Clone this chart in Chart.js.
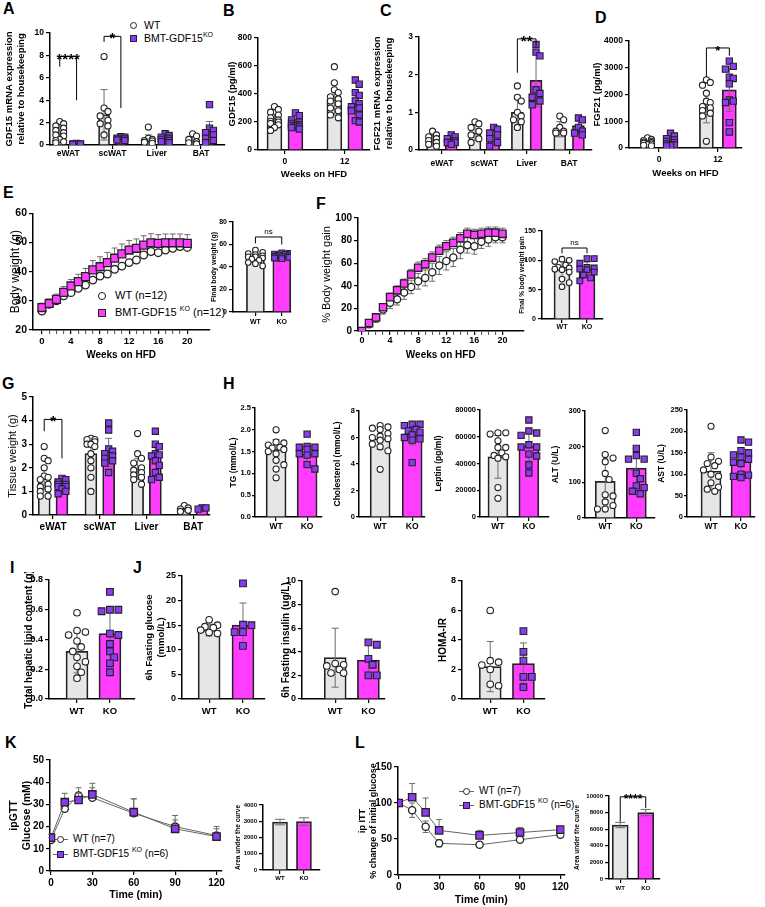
<!DOCTYPE html>
<html>
<head>
<meta charset="utf-8">
<script src="https://cdn.jsdelivr.net/npm/chart.js@4.4.1/dist/chart.umd.min.js"></script>
<style>
body{margin:0;background:#fff;width:765px;height:907px;position:relative;overflow:hidden;font-family:"Liberation Sans",Arial,sans-serif;color:#000}
canvas{position:absolute}
.lt{position:absolute;font-weight:bold;font-size:16px;line-height:16px}
.lg{position:absolute;white-space:nowrap}
.lg sup{font-size:7px;vertical-align:5px;line-height:0}
.mk{position:absolute;box-sizing:border-box;border:1.3px solid #222}
.ln{position:absolute;height:1px;background:#666}
</style>
</head>
<body>
<div class="lt" style="left:3px;top:1px">A</div>
<div class="lt" style="left:223px;top:3px">B</div>
<div class="lt" style="left:380px;top:3px">C</div>
<div class="lt" style="left:595px;top:10px">D</div>
<div class="lt" style="left:3px;top:185px">E</div>
<div class="lt" style="left:316px;top:196px">F</div>
<div class="lt" style="left:2px;top:376px">G</div>
<div class="lt" style="left:223px;top:376px">H</div>
<div class="lt" style="left:10px;top:560px">I</div>
<div class="lt" style="left:133px;top:560px">J</div>
<div class="lt" style="left:5px;top:735px">K</div>
<div class="lt" style="left:355px;top:735px">L</div>

<div class="mk" style="left:130px;top:22px;width:7px;height:7px;border-radius:50%;background:#fff"></div>
<div class="lg" style="left:144px;top:20px;font-size:10.5px;line-height:10.5px">WT</div>
<div class="mk" style="left:130px;top:35px;width:7px;height:7px;background:#8b3cf2"></div>
<div class="lg" style="left:144px;top:33px;font-size:10.5px;line-height:10.5px">BMT-GDF15<sup>KO</sup></div>

<div class="mk" style="left:98px;top:292px;width:8px;height:8px;border-radius:50%;background:#fff"></div>
<div class="lg" style="left:115px;top:290px;font-size:11px;line-height:11px">WT (n=12)</div>
<div class="mk" style="left:98px;top:309px;width:8px;height:8px;background:#ff3dff"></div>
<div class="lg" style="left:115px;top:307px;font-size:11px;line-height:11px">BMT-GDF15 <sup>KO</sup> (n=12)</div>

<div class="ln" style="left:53px;top:839px;width:15px"></div>
<div class="mk" style="left:57px;top:836px;width:7px;height:7px;border-radius:50%;background:#fff"></div>
<div class="lg" style="left:73px;top:834px;font-size:10px;line-height:10px">WT (n=7)</div>
<div class="ln" style="left:53px;top:854px;width:15px"></div>
<div class="mk" style="left:57px;top:851px;width:7px;height:7px;background:#8b3cf2"></div>
<div class="lg" style="left:73px;top:849px;font-size:10px;line-height:10px">BMT-GDF15 <sup>KO</sup> (n=6)</div>

<div class="ln" style="left:459px;top:791px;width:15px"></div>
<div class="mk" style="left:463px;top:788px;width:7px;height:7px;border-radius:50%;background:#fff"></div>
<div class="lg" style="left:479px;top:786px;font-size:10px;line-height:10px">WT (n=7)</div>
<div class="ln" style="left:459px;top:805px;width:15px"></div>
<div class="mk" style="left:463px;top:802px;width:7px;height:7px;background:#8b3cf2"></div>
<div class="lg" style="left:479px;top:800px;font-size:10px;line-height:10px">BMT-GDF15 <sup>KO</sup> (n=6)</div>

<script>
// ---- data ----
const tissueCats = ['eWAT', 'scWAT', 'Liver', 'BAT'];
const weekCats = ['0', '12'];
const pairCats = ['WT', 'KO'];

// A: GDF15 mRNA
const aWtMean = [1.05, 2.7, 0.45, 0.4];
const aWtSd = [0.75, 2.25, 0.45, 0.35];
const aKoMean = [0.1, 0.65, 0.55, 1.3];
const aKoSd = [0.05, 0.15, 0.3, 0.8];
const aWtPts = [[2.1, 1.9, 1.7, 1.5, 1.3, 1.1, 0.9, 0.8, 0.5, 0.4, 0.3, 0.2], [7.9, 3.3, 3.0, 2.6, 2.2, 1.9, 1.7, 0.9], [1.6, 0.6, 0.5, 0.4, 0.35, 0.25, 0.15], [1.0, 0.8, 0.5, 0.3, 0.2, 0.1]];
const aKoPts = [[0.15, 0.1, 0.1, 0.08, 0.05], [0.75, 0.7, 0.6, 0.55, 0.45, 0.4], [1.0, 0.85, 0.7, 0.6, 0.5, 0.4, 0.3, 0.2], [3.6, 1.5, 1.3, 1.1, 0.9, 0.6, 0.4, 0.2]];

// B: serum GDF15
const bWtMean = [210, 360];
const bWtSd = [45, 110];
const bKoMean = [185, 315];
const bKoSd = [35, 100];
const bWtPts = [[310, 290, 270, 250, 230, 215, 205, 200, 190, 180, 160, 140], [595, 480, 430, 410, 380, 365, 350, 330, 300, 280, 250, 230]];
const bKoPts = [[265, 245, 215, 200, 190, 180, 175, 170, 165, 160, 150], [500, 470, 410, 390, 350, 330, 310, 300, 280, 250, 210, 200]];

// C: FGF21 mRNA
const cWtMean = [0.25, 0.45, 1.0, 0.55];
const cWtSd = [0.15, 0.2, 0.45, 0.2];
const cKoMean = [0.25, 0.4, 1.85, 0.65];
const cKoSd = [0.12, 0.25, 0.7, 0.2];
const cWtPts = [[0.5, 0.4, 0.35, 0.3, 0.25, 0.2, 0.15, 0.1], [0.75, 0.7, 0.6, 0.5, 0.4, 0.3, 0.2], [1.7, 1.4, 1.3, 1.0, 0.9, 0.8, 0.75, 0.6], [0.9, 0.8, 0.6, 0.5, 0.5, 0.45, 0.45]];
const cKoPts = [[0.4, 0.35, 0.3, 0.25, 0.2, 0.2, 0.15], [0.6, 0.55, 0.45, 0.4, 0.3, 0.2, 0.1], [2.8, 2.6, 2.5, 1.6, 1.5, 1.4, 1.3, 1.2], [0.85, 0.8, 0.6, 0.5, 0.45, 0.4]];

// D: serum FGF21
const dWtMean = [200, 1520];
const dWtSd = [90, 580];
const dKoMean = [230, 2170];
const dKoSd = [140, 800];
const dWtPts = [[380, 320, 280, 250, 220, 200, 180, 150, 120, 100, 80], [2550, 2450, 2350, 2050, 1750, 1700, 1550, 1500, 1400, 1300, 1200, 250]];
const dKoPts = [[550, 450, 350, 300, 250, 200, 150, 120, 100, 80], [3250, 3050, 2950, 2650, 2600, 2400, 1800, 1750, 1700, 950, 600]];

// E: body weight
const weeks = [0, 1, 2, 3, 4, 5, 6, 7, 8, 9, 10, 11, 12, 13, 14, 15, 16, 17, 18, 19, 20];
const eKo = [27.7, 29.1, 30.5, 32.9, 35.1, 36.6, 38.3, 40.6, 41.7, 43.1, 44.6, 46.1, 47.4, 48, 49.1, 49.9, 49.7, 49.9, 49.9, 49.9, 49.7];
const eKoSd = [1.5, 1.5, 1.8, 2, 2.2, 2.5, 2.8, 3.2, 3.4, 3.5, 3.5, 3.4, 3.3, 3.2, 3.2, 3.1, 3, 3, 3, 3, 3];
const eWt = [26.5, 28.8, 30, 31.7, 32.8, 34.3, 35.4, 37.1, 38.5, 39.2, 40.8, 41.9, 43.1, 44, 45.7, 46.9, 46.5, 47.4, 48, 48.6, 48.3];
const eFinalMean = [48, 50];
const eFinalSd = [4, 1.8];
const eFinalWt = [55, 53, 52, 51, 50, 49, 49, 48, 47, 46, 44, 43, 41];
const eFinalKo = [52.5, 52, 51.5, 51, 50.5, 50, 49.5, 49, 48.5, 48, 47.5];

// F: % body weight gain
const fKo = [0, 7, 12, 21, 30, 36, 42, 50, 56, 59, 65, 71, 75, 78, 82, 86, 85, 86, 87, 87, 86];
const fKoSd = [0, 2, 3, 3, 3.5, 4, 4, 4.5, 5, 5, 5, 5, 5, 5, 5, 5, 5, 5, 5, 5, 5];
const fWt = [0, 6, 11, 19, 25, 28, 34, 39, 44, 47, 52, 58, 62, 65, 72, 76, 75, 79, 81, 83, 83];
const fWtSd = [0, 2, 3, 4, 5, 5, 6, 6, 7, 7, 8, 8, 8, 8, 8, 7, 7, 6, 6, 5, 5];
const fFinalMean = [84, 85];
const fFinalSd = [14, 12];
const fFinalWt = [102, 100, 98, 92, 88, 87, 85, 84, 80, 68, 62, 55];
const fFinalKo = [103, 103, 95, 88, 87, 85, 84, 80, 75, 70, 65];

// G: tissue weight
const gWtMean = [1.55, 2.6, 1.95, 0.25];
const gWtSd = [0.45, 0.65, 0.45, 0.1];
const gKoMean = [1.25, 2.65, 2.55, 0.25];
const gKoSd = [0.2, 0.6, 0.3, 0.05];
const gWtPts = [[2.9, 2.4, 2.3, 2.0, 1.65, 1.6, 1.5, 1.3, 1.2, 1.1, 1.0, 0.8, 0.8], [3.25, 3.2, 3.2, 3.1, 3.0, 3.0, 2.9, 2.6, 2.3, 2.0, 1.6, 1.0], [3.45, 2.6, 2.4, 2.2, 2.0, 1.9, 1.8, 1.7, 1.6, 1.5, 1.3], [0.4, 0.3, 0.25, 0.2, 0.15]];
const gKoPts = [[1.55, 1.5, 1.4, 1.3, 1.3, 1.2, 1.2, 1.1, 1.0, 0.9], [3.9, 3.6, 2.8, 2.7, 2.6, 2.5, 2.4, 2.3, 2.2, 1.8], [3.55, 3.0, 2.9, 2.6, 2.55, 2.5, 2.3, 2.1, 1.8, 1.6, 1.5], [0.3, 0.3, 0.25]];

// H: serum markers [WT, KO]
const tgMean = [1.55, 1.45], tgSd = [0.23, 0.18];
const tgWt = [2.0, 1.72, 1.7, 1.65, 1.6, 1.58, 1.55, 1.5, 1.45, 1.3, 1.2, 1.1, 0.9];
const tgKo = [1.9, 1.62, 1.6, 1.6, 1.55, 1.45, 1.45, 1.42, 1.2, 1.1];
const cholMean = [5.9, 6.25], cholSd = [0.8, 0.8];
const cholWt = [6.9, 6.8, 6.7, 6.6, 6.3, 6.1, 6.0, 5.9, 5.8, 5.5, 5.3, 5.0, 3.6];
const cholKo = [7.0, 7.0, 6.9, 6.6, 6.5, 6.4, 6.2, 6.0, 5.9, 5.8, 4.1];
const lepMean = [45000, 53000], lepSd = [16000, 11000];
const lepWt = [63000, 63000, 62000, 57000, 52000, 52000, 48000, 46000, 45000, 44000, 22000, 14000];
const lepKo = [72500, 64300, 62800, 61000, 54000, 52300, 52300, 47000, 45600, 38900, 32900];
const altMean = [103, 140], altSd = [73, 55];
const altWt = [245, 178, 168, 158, 125, 108, 65, 62, 45, 35, 25, 25];
const altKo = [240, 195, 175, 165, 165, 125, 110, 90, 85, 75, 68];
const astMean = [107, 130], astSd = [43, 30];
const astWt = [212, 140, 130, 125, 120, 110, 100, 95, 80, 70, 65, 60];
const astKo = [180, 175, 155, 150, 145, 140, 135, 128, 125, 100, 98, 95, 92];

// I, J
const lipidMean = [0.32, 0.44], lipidSd = [0.145, 0.18];
const lipidWt = [0.58, 0.46, 0.45, 0.43, 0.39, 0.35, 0.32, 0.28, 0.25, 0.22, 0.18, 0.14];
const lipidKo = [0.72, 0.6, 0.6, 0.59, 0.44, 0.43, 0.37, 0.32, 0.28, 0.24, 0.18];
const gluMean = [14, 15], gluSd = [1.2, 4.5];
const gluWt = [16.1, 15, 14.7, 14.5, 14, 13.5, 13.3];
const gluKo = [23.5, 15.1, 15, 13.6, 13.6, 10.8];
const insMean = [3.5, 3.3], insSd = [2.5, 1.3];
const insWt = [9.1, 3.0, 2.9, 2.8, 2.5, 2.2, 2.2];
const insKo = [4.8, 4.6, 3.4, 2.9, 2.0, 2.0];
const homaMean = [2.2, 2.4], homaSd = [1.7, 1.4];
const homaWt = [6.0, 2.6, 2.5, 2.3, 2.0, 1.0, 0.9];
const homaKo = [4.6, 3.2, 2.6, 1.5, 1.5, 0.8];

// K, L
const times = [0, 10, 20, 30, 60, 90, 120];
const kWt = [14, 28, 34, 33, 26, 20, 16];
const kWtSd = [1, 4.5, 3.5, 4.5, 6.5, 5, 4];
const kKo = [15, 31, 32, 34.5, 26.5, 19, 15.5];
const kKoSd = [1.5, 4, 3, 5, 6, 4, 3.5];
const kAucMean = [2950, 2980], kAucSd = [170, 230];
const lWt = [100, 90, 67, 44, 42, 49, 56];
const lWtSd = [0, 10, 8, 5, 3, 3, 2];
const lKo = [100, 108, 87, 62, 55, 59, 63];
const lKoSd = [0, 19, 20, 15, 7, 7, 3];
const lAucMean = [6500, 8000], lAucSd = [320, 380];

// ---- drawing ----
const FONT = '"Liberation Sans", Arial, Helvetica, sans-serif';
const WT_FILL = '#e6e6e6', KO_FILL = '#ff3dff', KO_PT = '#8b3cf2', EDGE = '#222', ERR = '#6c6c6c';
const fnt = (size, weight) => ({family: FONT, size, weight: weight || 'bold', lineHeight: 1.2});

const errorBars = {
  id: 'errorBars',
  draw(chart, idx) {
    const ds = chart.data.datasets[idx];
    const {ctx, scales: {x, y}} = chart;
    const cap = ds.cap || 3.5;
    ctx.save();
    ctx.strokeStyle = ERR;
    ctx.lineWidth = 1;
    ds.data.forEach((d, i) => {
      const s = ds.sd[i];
      if (!s) return;
      const px = x.getPixelForValue(d.x);
      const top = y.getPixelForValue(d.y + s);
      const bot = y.getPixelForValue(ds.down === false ? d.y : d.y - s);
      ctx.beginPath();
      ctx.moveTo(px, top); ctx.lineTo(px, bot);
      ctx.moveTo(px - cap, top); ctx.lineTo(px + cap, top);
      if (ds.down !== false) { ctx.moveTo(px - cap, bot); ctx.lineTo(px + cap, bot); }
      ctx.stroke();
    });
    ctx.restore();
  },
  beforeDatasetDraw(chart, args) {
    const ds = chart.data.datasets[args.index];
    if (ds.sd && ds.errBehind) this.draw(chart, args.index);
  },
  afterDatasetDraw(chart, args) {
    const ds = chart.data.datasets[args.index];
    if (ds.sd && !ds.errBehind) this.draw(chart, args.index);
  }
};

const brackets = {
  id: 'brackets',
  afterDraw(chart, args, opts) {
    if (!opts.items) return;
    const {ctx, scales: {x, y}} = chart;
    ctx.save();
    ctx.strokeStyle = '#000';
    ctx.fillStyle = '#000';
    ctx.lineWidth = 1;
    opts.items.forEach(b => {
      const x1 = x.getPixelForValue(b.x1), x2 = x.getPixelForValue(b.x2), yy = y.getPixelForValue(b.y);
      ctx.beginPath();
      ctx.moveTo(x1, y.getPixelForValue(b.l1));
      ctx.lineTo(x1, yy);
      ctx.lineTo(x2, yy);
      ctx.lineTo(x2, y.getPixelForValue(b.l2));
      ctx.stroke();
      ctx.font = (b.weight || 'bold') + ' ' + (b.size || 14) + 'px ' + FONT;
      ctx.textAlign = 'center';
      ctx.textBaseline = 'alphabetic';
      ctx.fillText(b.text, (x1 + x2) / 2, yy + (b.dy || 7));
    });
    ctx.restore();
  }
};

// spread points sideways so they don't overlap (beeswarm-ish)
function swarm(vals, cx, kx, ky, d, maxOff) {
  const order = vals.map((v, i) => i).sort((a, b) => vals[b] - vals[a]);
  const placed = [];
  const out = [];
  order.forEach(i => {
    const yp = vals[i] * ky;
    let best = 0, bestHit = Infinity;
    for (let k = 0; k < 15; k++) {
      const off = (k % 2 ? 1 : -1) * Math.ceil(k / 2) * d * 0.6;
      if (Math.abs(off) > maxOff) continue;
      let hit = 0;
      placed.forEach(p => {
        const dd = Math.hypot(off - p[0], yp - p[1]);
        if (dd < d) hit += d - dd;
      });
      if (hit === 0) { best = off; bestHit = 0; break; }
      if (hit < bestHit) { bestHit = hit; best = off; }
    }
    placed.push([best, yp]);
    out.push({x: cx + best / kx, y: vals[i]});
  });
  return out;
}

function yAxis(o, yW) {
  return {
    type: 'linear', min: o.yMin, max: o.yMax,
    afterBuildTicks: s => {
      const t = [];
      for (let v = o.yMin; v <= o.yMax + 1e-9; v += o.yStep) t.push({value: +v.toFixed(6)});
      s.ticks = t;
    },
    ticks: {font: fnt(o.tick || 8.5), color: '#000', padding: o.yPad == null ? 2 : o.yPad, callback: v => o.yDec ? v.toFixed(o.yDec) : String(v)},
    grid: {drawOnChartArea: false, drawTicks: true, tickLength: o.tl || 4, color: '#000', lineWidth: 1.2},
    border: {display: true, color: '#000', width: 1.5},
    title: {display: true, text: o.yTitle, font: fnt(o.titleSize || 9.5, o.titleWeight), color: '#000', padding: 0},
    afterFit: s => { s.width = yW; }
  };
}

function xAxis(o, xH, positions, labels) {
  const ts = o.xTick || o.tick || 8.5;
  return {
    type: 'linear', min: o.xMin, max: o.xMax, offset: false,
    afterBuildTicks: s => { s.ticks = positions.map(v => ({value: v})); },
    ticks: {font: fnt(ts), color: '#000', padding: Math.max(0, o.xLabY - o.box[3] - 4 - ts * 0.6), autoSkip: false, maxRotation: 0, callback: (v, i) => labels[i]},
    grid: {drawOnChartArea: false, drawTicks: true, offset: false, tickLength: 4, color: '#000', lineWidth: 1.2,
      tickWidth: c => (o.minor && c.tick && c.tick.value % o.minor) ? 0.7 : 1.2},
    border: {display: true, color: '#000', width: 1.5},
    title: {display: !!o.xTitle, text: o.xTitle, font: fnt(o.xTitleSize || o.titleSize || 9.5), color: '#000', padding: 0},
    afterFit: s => { s.height = xH; }
  };
}

function makeChart(o, type, datasets, positions, labels) {
  const pt = o.pt || 8, pr = o.pr || 6;
  const tf = o.titleSize || 9.5;
  const yW = Math.round(o.box[0] - o.yTitleX + tf * 0.6);
  const xf = o.xTitleSize || tf;
  const xH = Math.round(o.xTitle ? (o.xTitleY + xf * 0.6 - o.box[3]) : (o.xLabY + 8 - o.box[3]));
  const W = yW + (o.box[2] - o.box[0]) + pr, H = pt + (o.box[3] - o.box[1]) + xH;
  const c = document.createElement('canvas');
  c.width = W; c.height = H;
  c.style.left = (o.box[0] - yW) + 'px';
  c.style.top = (o.box[1] - pt) + 'px';
  c.style.width = W + 'px';
  c.style.height = H + 'px';
  document.body.appendChild(c);
  new Chart(c, {
    type,
    data: {datasets},
    options: {
      responsive: false, animation: false, devicePixelRatio: 1,
      layout: {padding: {top: pt, right: pr, left: 0, bottom: 0}},
      plugins: {legend: {display: false}, tooltip: {enabled: false}, brackets: {items: o.brackets}},
      scales: {x: xAxis(o, xH, positions, labels), y: yAxis(o, yW)}
    },
    plugins: [errorBars, brackets]
  });
}

function barPanel(o) {
  const kx = (o.box[2] - o.box[0]) / (o.xMax - o.xMin);
  const ky = (o.box[3] - o.box[1]) / (o.yMax - o.yMin);
  const scat = [], bars = [];
  o.series.forEach(s => {
    const ko = s.kind === 'ko';
    const pts = [];
    s.pos.forEach((p, i) => {
      if (s.pts && s.pts[i]) pts.push(...swarm(s.pts[i], p, kx, ky, o.pd || 6.5, o.bw / 2));
    });
    if (pts.length) scat.push({
      type: 'scatter', data: pts,
      pointStyle: ko ? 'rect' : 'circle', pointRadius: ko ? (o.pd || 6.5) * 0.68 : (o.pd || 6.5) * 0.47,
      pointBackgroundColor: ko ? KO_PT : '#fff', pointBorderColor: EDGE, pointBorderWidth: 1.1
    });
    bars.push({
      type: 'bar', data: s.pos.map((p, i) => ({x: p, y: s.mean[i]})), sd: s.sd, cap: o.cap,
      backgroundColor: ko ? KO_FILL : WT_FILL, borderColor: EDGE, borderWidth: 1.7,
      barThickness: o.bw, grouped: false
    });
  });
  makeChart(o, 'bar', scat.concat(bars), o.catPos, o.cats);
}

function grp(wtM, wtS, wtP, koM, koS, koP, off) {
  return [
    {kind: 'wt', pos: tissueCats.slice(0, wtM.length).map((c, i) => i - off), mean: wtM, sd: wtS, pts: wtP},
    {kind: 'ko', pos: tissueCats.slice(0, koM.length).map((c, i) => i + off), mean: koM, sd: koS, pts: koP}
  ];
}
function pair(mean, sd, wtP, koP) {
  return [
    {kind: 'wt', pos: [0], mean: [mean[0]], sd: [sd[0]], pts: wtP ? [wtP] : null},
    {kind: 'ko', pos: [1], mean: [mean[1]], sd: [sd[1]], pts: koP ? [koP] : null}
  ];
}

function linePanel(o) {
  const ds = o.series.map(s => ({
    type: 'scatter', data: o.xs.map((x, i) => ({x, y: s.vals[i]})), sd: s.sd, down: s.down, errBehind: true, cap: 3,
    showLine: !!o.lines, borderColor: '#666', borderWidth: 1,
    pointStyle: s.kind === 'ko' ? 'rect' : 'circle',
    pointRadius: s.kind === 'ko' ? o.sq : o.ci,
    pointBackgroundColor: s.kind === 'ko' ? s.fill : '#fff',
    pointBorderColor: EDGE, pointBorderWidth: 1.3
  }));
  makeChart(o, 'scatter', ds, o.ticksAt, o.ticksAt.map(v => (o.minor && v % o.minor) ? '' : String(v)));
}

const aOff = 0.19, cOff = 0.22, gOff = 0.19;

// A
barPanel({box: [50, 33, 225, 145], xMin: -0.41, xMax: 3.54, catPos: [0, 1, 2, 3], cats: tissueCats, bw: 11,
  series: grp(aWtMean, aWtSd, aWtPts, aKoMean, aKoSd, aKoPts, aOff),
  yMin: 0, yMax: 10, yStep: 2, yTitle: ['GDF15 mRNA expression', 'relative to housekeeping'], yTitleX: 10, xLabY: 154,
  brackets: [{x1: -aOff, x2: aOff, y: 7.9, l1: 7.0, l2: 4.0, text: '****', size: 15}, {x1: 1 - aOff, x2: 1 + aOff, y: 9.7, l1: 9.2, l2: 3.3, text: '*', size: 15}]});
// B
barPanel({box: [258, 38, 370, 150], xMin: -0.45, xMax: 1.42, catPos: [0, 1], cats: weekCats, bw: 15,
  series: grp(bWtMean, bWtSd, bWtPts, bKoMean, bKoSd, bKoPts, 0.175),
  yMin: 0, yMax: 800, yStep: 200, yTitle: 'GDF15 (pg/ml)', yTitleX: 233, xLabY: 162, xTitle: 'Weeks on HFD', xTitleY: 174});
// C
barPanel({box: [419, 37, 592, 150], xMin: -0.54, xMax: 3.54, catPos: [0, 1, 2, 3], cats: tissueCats, bw: 12, pt: 24,
  series: grp(cWtMean, cWtSd, cWtPts, cKoMean, cKoSd, cKoPts, cOff),
  yMin: 0, yMax: 3, yStep: 1, yTitle: ['FGF21 mRNA expression', 'relative to housekeeping'], yTitleX: 378, xLabY: 164,
  brackets: [{x1: 2 - cOff, x2: 2 + cOff, y: 2.95, l1: 2.05, l2: 2.75, text: '**', size: 15}]});
// D
barPanel({box: [629, 41, 742, 148], xMin: -0.51, xMax: 1.41, catPos: [0, 1], cats: weekCats, bw: 14,
  series: grp(dWtMean, dWtSd, dWtPts, dKoMean, dKoSd, dKoPts, 0.195),
  yMin: 0, yMax: 4000, yStep: 1000, yTitle: 'FGF21 (pg/ml)', yTitleX: 598, xLabY: 160, xTitle: 'Weeks on HFD', xTitleY: 173,
  brackets: [{x1: 1 - 0.195, x2: 1 + 0.195, y: 3740, l1: 2650, l2: 3450, text: '*', size: 13}]});

// E
linePanel({box: [33, 213, 210, 330], xMin: -1.23, xMax: 23, xs: weeks, ticksAt: weeks, minor: 4, ci: 3.8, sq: 5.6,
  series: [{kind: 'ko', vals: eKo, sd: eKoSd, down: false, fill: KO_FILL}, {kind: 'wt', vals: eWt}],
  yMin: 20, yMax: 60, yStep: 10, tick: 10.5, xTick: 9.5, yTitle: 'Body weight (g)', titleSize: 12, titleWeight: 'normal', yTitleX: 15,
  xLabY: 341, xTitle: 'Weeks on HFD', xTitleSize: 10, xTitleY: 355});
barPanel({box: [233, 222, 291, 312], xMin: -0.85, xMax: 1.35, catPos: [0, 1], cats: pairCats, bw: 18, pd: 6,
  series: pair(eFinalMean, eFinalSd, eFinalWt, eFinalKo), tick: 7, titleSize: 7,
  yMin: 0, yMax: 80, yStep: 20, yTitle: 'Final body weight (g)', yTitleX: 214, xLabY: 322,
  brackets: [{x1: 0, x2: 1, y: 66.7, l1: 61, l2: 60, text: 'ns', size: 8, weight: 'normal', dy: -3}]});

// F
linePanel({box: [358, 218, 524, 331], xMin: -0.57, xMax: 23, xs: weeks, ticksAt: weeks, minor: 4, ci: 3.6, sq: 5.2,
  series: [{kind: 'ko', vals: fKo, sd: fKoSd, down: false, fill: KO_FILL}, {kind: 'wt', vals: fWt, sd: fWtSd}],
  yMin: 0, yMax: 100, yStep: 20, tick: 10, xTick: 9, yTitle: '% Body weight gain', titleSize: 11, titleWeight: 'normal', yTitleX: 327,
  xLabY: 341, xTitle: 'Weeks on HFD', xTitleSize: 10, xTitleY: 355});
barPanel({box: [542, 231, 603, 319], xMin: -0.8, xMax: 1.64, catPos: [0, 1], cats: pairCats, bw: 16, pd: 6,
  series: pair(fFinalMean, fFinalSd, fFinalWt, fFinalKo), tick: 7, titleSize: 6.5,
  yMin: 0, yMax: 150, yStep: 50, yTitle: 'Final % body weight gain', yTitleX: 522, xLabY: 327,
  brackets: [{x1: 0, x2: 1, y: 121, l1: 112, l2: 112, text: 'ns', size: 8, weight: 'normal', dy: -3}]});

// G
barPanel({box: [33, 397, 210, 515], xMin: -0.43, xMax: 3.36, catPos: [0, 1, 2, 3], cats: tissueCats, bw: 12,
  series: grp(gWtMean, gWtSd, gWtPts, gKoMean, gKoSd, gKoPts, gOff), tick: 10,
  yMin: 0, yMax: 5, yStep: 1, yTitle: 'Tissue weight (g)', titleSize: 11, titleWeight: 'normal', yTitleX: 13, xLabY: 527,
  brackets: [{x1: -gOff, x2: gOff, y: 4.05, l1: 3.55, l2: 2.4, text: '*', size: 15}]});

// H
barPanel({box: [255, 408, 322, 517], xMin: -0.68, xMax: 1.48, catPos: [0, 1], cats: pairCats, bw: 20, tick: 7.5, xTick: 8.5, titleSize: 8.5, tl: 3, yPad: 1,
  series: pair(tgMean, tgSd, tgWt, tgKo), yMin: 0, yMax: 2.5, yStep: 0.5, yDec: 1, yTitle: 'TG (mmol/L)', yTitleX: 234, xLabY: 527});
barPanel({box: [359, 411, 425, 517], xMin: -0.66, xMax: 1.4, catPos: [0, 1], cats: pairCats, bw: 20, tick: 7.5, xTick: 8.5, titleSize: 8.5, tl: 3, yPad: 1,
  series: pair(cholMean, cholSd, cholWt, cholKo), yMin: 0, yMax: 8, yStep: 2, yTitle: 'Cholesterol (mmol/L)', yTitleX: 338, xLabY: 527});
barPanel({box: [480, 410, 549, 517], xMin: -0.58, xMax: 1.65, catPos: [0, 1], cats: pairCats, bw: 20, tick: 7.5, xTick: 8.5, titleSize: 8.5, tl: 3, yPad: 1,
  series: pair(lepMean, lepSd, lepWt, lepKo), yMin: 0, yMax: 80000, yStep: 20000, yTitle: 'Leptin (pg/ml)', yTitleX: 439, xLabY: 527});
barPanel({box: [585, 411, 655, 518], xMin: -0.65, xMax: 1.6, catPos: [0, 1], cats: pairCats, bw: 20, tick: 7.5, xTick: 8.5, titleSize: 8.5, tl: 3, yPad: 1,
  series: pair(altMean, altSd, altWt, altKo), yMin: 0, yMax: 300, yStep: 100, yTitle: 'ALT (U/L)', yTitleX: 556, xLabY: 527});
barPanel({box: [687, 410, 757, 517], xMin: -0.8, xMax: 1.45, catPos: [0, 1], cats: pairCats, bw: 20, pr: 3, tick: 7.5, xTick: 8.5, titleSize: 8.5, tl: 3, yPad: 1,
  series: pair(astMean, astSd, astWt, astKo), yMin: 0, yMax: 250, yStep: 50, yTitle: 'AST (U/L)', yTitleX: 662, xLabY: 527});

// I
barPanel({box: [49, 580, 135, 699], xMin: -0.85, xMax: 1.76, catPos: [0, 1], cats: pairCats, bw: 22, pd: 7, tick: 9, xTick: 9.5,
  series: pair(lipidMean, lipidSd, lipidWt, lipidKo), yMin: 0, yMax: 0.8, yStep: 0.2, yDec: 1,
  yTitle: 'Total hepatic lipid content (g)', titleSize: 10, yTitleX: 29, xLabY: 711});
// J
barPanel({box: [182, 576, 265, 699], xMin: -0.8, xMax: 1.65, catPos: [0, 1], cats: pairCats, bw: 22, pd: 7, tick: 9, xTick: 9.5,
  series: pair(gluMean, gluSd, gluWt, gluKo), yMin: 0, yMax: 25, yStep: 5,
  yTitle: ['6h Fasting glucose', '(mmol/L)'], titleSize: 9.5, yTitleX: 150, xLabY: 711});
barPanel({box: [302, 581, 385, 699], xMin: -1.0, xMax: 1.5, catPos: [0, 1], cats: pairCats, bw: 22, pd: 7, tick: 9, xTick: 9.5,
  series: pair(insMean, insSd, insWt, insKo), yMin: 0, yMax: 10, yStep: 2,
  yTitle: '6h Fasting insulin (ug/L)', titleSize: 10, yTitleX: 286, xLabY: 711});
barPanel({box: [462, 581, 545, 699], xMin: -0.85, xMax: 1.65, catPos: [0, 1], cats: pairCats, bw: 22, pd: 7, tick: 9, xTick: 9.5,
  series: pair(homaMean, homaSd, homaWt, homaKo), yMin: 0, yMax: 8, yStep: 2,
  yTitle: 'HOMA-IR', titleSize: 10, yTitleX: 443, xLabY: 711});

// K
linePanel({box: [50, 760, 222, 871], xMin: -0.7, xMax: 123.6, xs: times, ticksAt: [0, 30, 60, 90, 120], lines: true, ci: 3.6, sq: 5.2,
  series: [{kind: 'ko', vals: kKo, sd: kKoSd, down: false, fill: KO_PT}, {kind: 'wt', vals: kWt, sd: kWtSd, down: false}],
  yMin: 0, yMax: 50, yStep: 10, tick: 10, yTitle: ['ipGTT', 'Glucose (mM)'], titleSize: 10.5, yTitleX: 14,
  xLabY: 883, xTitle: 'Time (min)', xTitleY: 895, xTitleSize: 10.5});
barPanel({box: [263, 805, 320, 870], xMin: -0.71, xMax: 1.67, catPos: [0, 1], cats: pairCats, bw: 15, cap: 5,
  series: pair(kAucMean, kAucSd), tick: 6, titleSize: 6.5,
  yMin: 0, yMax: 4000, yStep: 1000, yTitle: 'Area under the curve', yTitleX: 238, xLabY: 878});

// L
linePanel({box: [398, 767, 565, 875], xMin: -0.5, xMax: 123, xs: times, ticksAt: [0, 30, 60, 90, 120], lines: true, ci: 3.6, sq: 5.2,
  series: [{kind: 'ko', vals: lKo, sd: lKoSd, down: false, fill: KO_PT}, {kind: 'wt', vals: lWt, sd: lWtSd}],
  yMin: 0, yMax: 150, yStep: 50, tick: 10, yTitle: ['ip ITT', '% change of initial glucose'], titleSize: 9, yTitleX: 362,
  xLabY: 887, xTitle: 'Time (min)', xTitleY: 900, xTitleSize: 10.5});
barPanel({box: [609, 796, 660, 879], xMin: -0.44, xMax: 1.56, catPos: [0, 1], cats: pairCats, bw: 16, cap: 5,
  series: pair(lAucMean, lAucSd), tick: 6, titleSize: 6.5,
  yMin: 0, yMax: 10000, yStep: 2000, yTitle: 'Area under the curve', yTitleX: 577, xLabY: 888,
  brackets: [{x1: 0, x2: 1, y: 9900, l1: 6900, l2: 8550, text: '****', size: 12, dy: 6}]});
</script>
</body>
</html>
